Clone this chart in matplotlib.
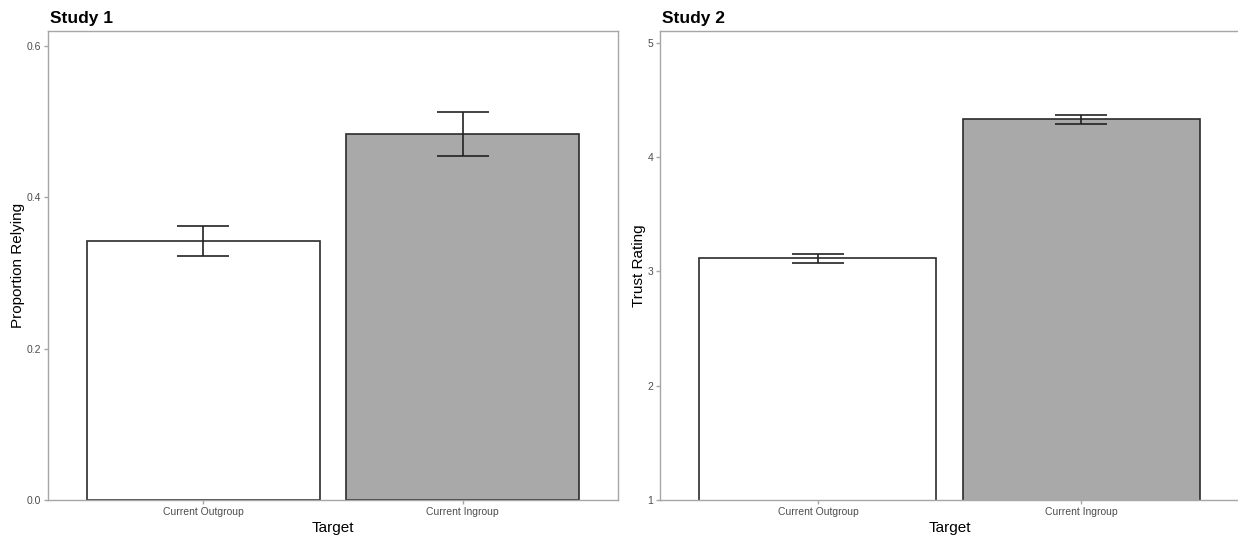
import matplotlib
matplotlib.use("Agg")
import matplotlib.pyplot as plt

plt.rcParams['font.family'] = ['Liberation Sans', 'DejaVu Sans']

targets = ["Current Outgroup", "Current Ingroup"]
fills = ["#ffffff", "#a9a9a9"]

study1_mean = [0.342, 0.484]
study1_se = [0.0196, 0.0286]
study1_ticks = [0.0, 0.2, 0.4, 0.6]
study1_labels = ["0.0", "0.2", "0.4", "0.6"]

study2_mean = [3.115, 4.331]
study2_se = [0.038, 0.040]
study2_ticks = [1, 2, 3, 4, 5]
study2_labels = ["1", "2", "3", "4", "5"]

W, H = 1238, 540
fig = plt.figure(figsize=(W / 100, H / 100), dpi=100)

axis_grey = "#a6a6a6"
tick_grey = "#4d4d4d"


def panel(rect, means, errs, ylim, ticks, labels, ylabel, title):
    ax = fig.add_axes(rect)
    x = [1, 2]
    ax.bar(x, means, width=0.9, color=fills, edgecolor="#2b2b2b", linewidth=1.2, zorder=2)
    ax.errorbar(x, means, yerr=errs, fmt="none", ecolor="#222222", elinewidth=1.2,
                capsize=18.4, capthick=1.2, zorder=3)
    ax.set_xlim(0.4, 2.6)
    ax.set_ylim(*ylim)
    ax.set_xticks(x)
    ax.set_xticklabels(targets)
    ax.set_yticks(ticks)
    ax.set_yticklabels(labels)
    for s in ax.spines.values():
        s.set_color(axis_grey)
        s.set_linewidth(1.0)
    ax.tick_params(axis="both", colors=axis_grey, labelcolor=tick_grey, labelsize=7.5,
                   length=3, width=1.0, pad=2)
    ax.set_xlabel("Target", fontsize=11, color="black", labelpad=3)
    ax.set_ylabel(ylabel, fontsize=11, color="black", labelpad=1)
    ax.set_title(title, loc="left", fontsize=12.5, fontweight="bold", pad=6, x=0.003)
    return ax


panel([48 / W, 40 / H, 570 / W, 469 / H], study1_mean, study1_se, (0, 0.62),
      study1_ticks, study1_labels, "Proportion Relying", "Study 1")
panel([660 / W, 40 / H, 579 / W, 469 / H], study2_mean, study2_se, (1, 5.105),
      study2_ticks, study2_labels, "Trust Rating", "Study 2")

fig.savefig("out.png", dpi=100)
